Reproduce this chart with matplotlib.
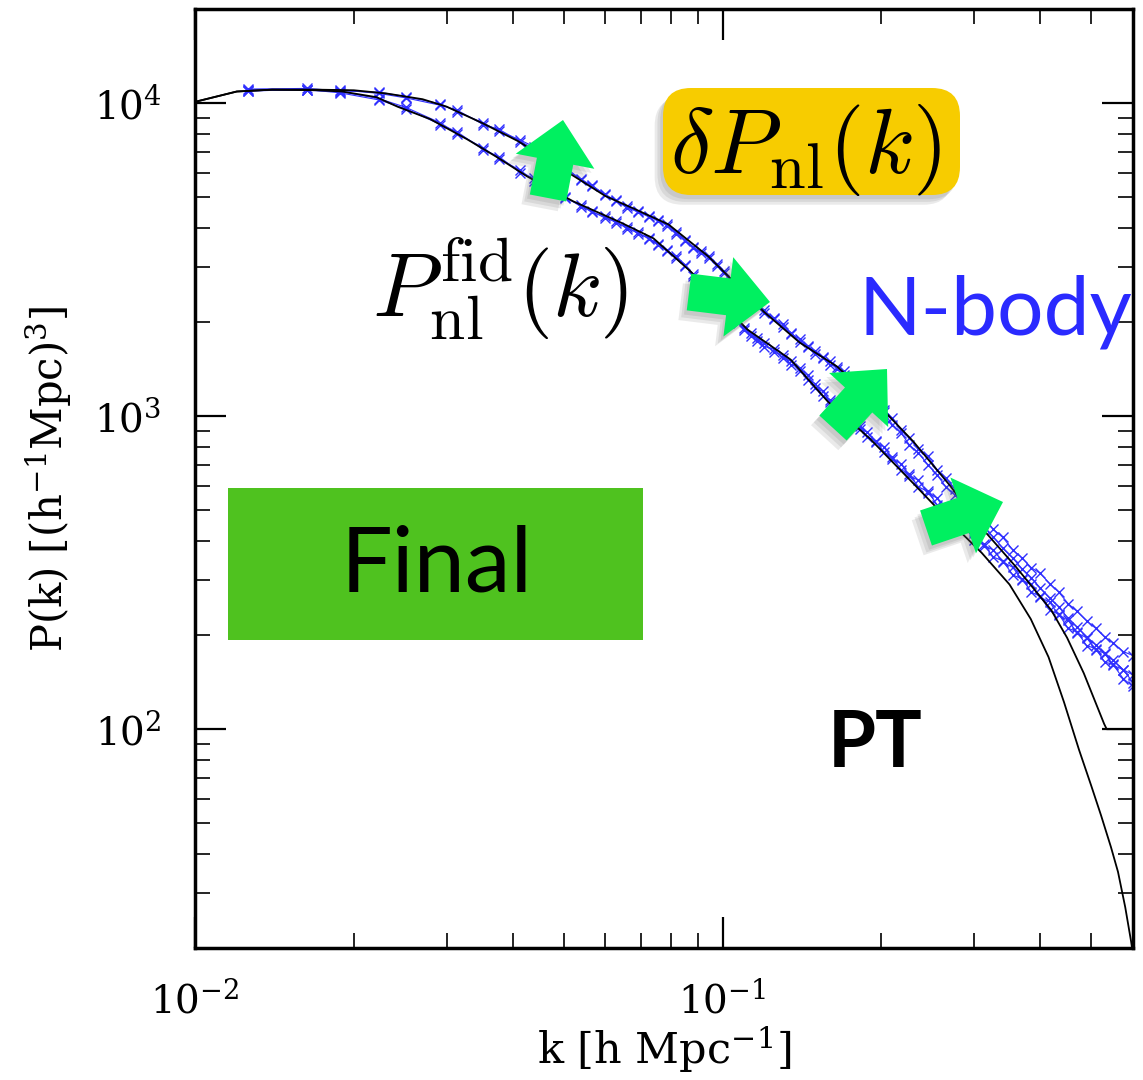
import numpy as np
import matplotlib.pyplot as plt
import matplotlib.patheffects as pe
from matplotlib.patches import FancyArrow, FancyBboxPatch, Rectangle
from matplotlib.ticker import LogLocator, NullFormatter

# perturbation theory predictions, fiducial (a) and varied (b) model
k_pt_a = [0.0100, 0.0120, 0.0140, 0.0170, 0.0200, 0.0230, 0.0270, 0.0300, 0.0350, 0.0410,
          0.0480, 0.0540, 0.0600, 0.0680, 0.0790, 0.0940, 0.1030, 0.1200, 0.1400, 0.1650,
          0.1950, 0.2300, 0.2700, 0.3100, 0.3600, 0.4200, 0.4500, 0.4840, 0.5290, 0.5350,
          0.6000]
p_pt_a = [10100, 10900, 11050, 11050, 11000, 10750, 10300, 9750, 8650, 7560,
          6400, 5650, 5050, 4600, 4100, 3240, 2780, 2150, 1720, 1440,
          1110, 830, 600, 440, 330, 240, 196, 151, 104, 100,
          100]

k_pt_b = [0.0100, 0.0120, 0.0140, 0.0170, 0.0190, 0.0221, 0.0242, 0.0279, 0.0328, 0.0374,
          0.0426, 0.0521, 0.0641, 0.0740, 0.0870, 0.1000, 0.1116, 0.1347, 0.1584, 0.1900,
          0.2300, 0.2700, 0.3100, 0.3500, 0.3840, 0.4150, 0.4440, 0.4740, 0.5000, 0.5220,
          0.5450, 0.5620, 0.5800, 0.5950, 0.6000]
p_pt_b = [10100, 10900, 11050, 11000, 10900, 10450, 9750, 8900, 7670, 6720,
          5840, 4860, 4160, 3700, 2900, 2280, 1890, 1516, 1113, 850,
          610, 460, 366, 290, 225, 170, 122, 86, 66, 53,
          42, 35, 27, 21, 19]

# N-body measurements (two realisations per model)
k_nbody = [0.0126, 0.0163, 0.0188, 0.0223, 0.0251, 0.0292, 0.0314, 0.0352, 0.0377, 0.0414,
           0.0440, 0.0477, 0.0503, 0.0540, 0.0565, 0.0600, 0.0628, 0.0660, 0.0691, 0.0725,
           0.0754, 0.0785, 0.0817, 0.0850, 0.0880, 0.0910, 0.0942, 0.0975, 0.1005, 0.1040,
           0.1070, 0.1100, 0.1130, 0.1160, 0.1200, 0.1250, 0.1300, 0.1350, 0.1400, 0.1450,
           0.1500, 0.1550, 0.1600, 0.1650, 0.1700, 0.1760, 0.1820, 0.1880, 0.1950, 0.2020,
           0.2100, 0.2180, 0.2260, 0.2350, 0.2450, 0.2550, 0.2650, 0.2760, 0.2880, 0.3000,
           0.3130, 0.3260, 0.3400, 0.3550, 0.3700, 0.3850, 0.4000, 0.4170, 0.4340, 0.4520,
           0.4700, 0.4900, 0.5100, 0.5300, 0.5500, 0.5750, 0.6000]

p_nb_a1 = [11100, 11150, 10950, 10850, 10500, 9950, 9400, 8650, 8150, 7620,
           7250, 6600, 6250, 5680, 5480, 5080, 4900, 4620, 4520, 4330,
           4250, 4060, 3870, 3620, 3480, 3320, 3240, 3030, 2900, 2700,
           2620, 2470, 2380, 2250, 2180, 2040, 1970, 1830, 1770, 1660,
           1620, 1530, 1500, 1420, 1390, 1300, 1250, 1170, 1130, 1050,
           985, 905, 855, 785, 745, 675, 635, 585, 552, 505,
           476, 435, 410, 374, 352, 328, 315, 292, 274, 252,
           238, 222, 210, 197, 189, 177, 172]
p_nb_a2 = [10950, 11050, 11050, 10750, 10400, 9850, 9500, 8550, 8250, 7540,
           7150, 6700, 6150, 5730, 5420, 5120, 4860, 4680, 4480, 4370,
           4200, 4100, 3830, 3660, 3440, 3360, 3200, 3070, 2860, 2740,
           2580, 2490, 2340, 2270, 2140, 2060, 1930, 1850, 1730, 1680,
           1580, 1550, 1460, 1440, 1350, 1310, 1210, 1170, 1090, 1030,
           940, 885, 810, 765, 700, 650, 595, 560, 515, 480,
           442, 412, 378, 352, 325, 305, 283, 262, 246, 226,
           212, 197, 186, 174, 166, 155, 149]
p_nb_b1 = [11050, 11000, 10900, 10350, 9700, 8650, 8000, 7200, 6650, 6100,
           5650, 5350, 4980, 4730, 4480, 4350, 4150, 4030, 3830, 3720,
           3520, 3400, 3210, 3050, 2810, 2670, 2480, 2380, 2220, 2130,
           1980, 1920, 1810, 1780, 1670, 1640, 1530, 1500, 1390, 1350,
           1230, 1200, 1110, 1085, 1020, 985, 910, 890, 825, 800,
           730, 705, 645, 625, 568, 548, 498, 482, 438, 424,
           386, 374, 342, 329, 299, 290, 264, 255, 231, 223,
           203, 196, 179, 175, 160, 155, 141]
p_nb_b2 = [10950, 11050, 10800, 10250, 9600, 8550, 8100, 7100, 6750, 6000,
           5750, 5250, 5020, 4670, 4520, 4290, 4190, 3970, 3870, 3680,
           3560, 3360, 3250, 3010, 2850, 2630, 2520, 2340, 2260, 2090,
           2020, 1880, 1850, 1740, 1710, 1600, 1570, 1460, 1430, 1310,
           1270, 1160, 1130, 1055, 1040, 955, 930, 860, 835, 770,
           740, 675, 655, 595, 575, 522, 505, 458, 444, 402,
           390, 355, 345, 311, 302, 274, 266, 240, 233, 210,
           205, 185, 181, 164, 161, 145, 137]

W, H = 1143, 1080

plt.rcParams['font.family'] = 'DejaVu Serif'
plt.rcParams['mathtext.fontset'] = 'dejavuserif'

fig = plt.figure(figsize=(W / 100, H / 100), dpi=100)
ax = fig.add_axes([195 / W, 1 - 948 / H, (1133 - 195) / W, (948 - 9) / H])

blue = '#3030ff'
for p in (p_nb_a1, p_nb_a2, p_nb_b1, p_nb_b2):
    ax.plot(k_nbody, p, '-', color=blue, lw=0.8, marker='x', ms=7, mew=1.0, zorder=2)

ax.plot(k_pt_a, p_pt_a, color='black', lw=1.3, zorder=3)
ax.plot(k_pt_b, p_pt_b, color='black', lw=1.3, zorder=3)

ax.set_xscale('log')
ax.set_yscale('log')
ax.set_xlim(0.01, 0.6)
ax.set_ylim(20, 2.0e4)
ax.xaxis.set_major_locator(LogLocator(base=10, numticks=5))
ax.yaxis.set_major_locator(LogLocator(base=10, numticks=6))
ax.xaxis.set_minor_locator(LogLocator(base=10, subs=np.arange(2, 10), numticks=20))
ax.yaxis.set_minor_locator(LogLocator(base=10, subs=np.arange(2, 10), numticks=20))
ax.xaxis.set_minor_formatter(NullFormatter())
ax.yaxis.set_minor_formatter(NullFormatter())
ax.tick_params(which='both', direction='in', top=True, right=True, labelsize=28)
ax.tick_params(which='major', length=22, width=1.6, pad=24)
ax.tick_params(which='minor', length=11, width=1.2)
for s in ax.spines.values():
    s.set_linewidth(2.5)

ax.set_xlabel(r'k [h Mpc$^{-1}$]', fontsize=31, labelpad=2)
ax.set_ylabel(r'P(k) [(h$^{-1}$Mpc)$^{3}$]', fontsize=30, labelpad=14)


def fxy(x, y):
    # pixel position (from top-left) to figure fraction
    return x / W, 1 - y / H


# soft drop shadow built from a few faint offset copies
shadow = [pe.SimplePatchShadow(offset=(-d, -d - 1), shadow_rgbFace='0.35', alpha=0.12)
          for d in (2, 4, 6)] + [pe.Normal()]

# green block arrows: (tail x, tail y, tip x, tip y) in pixels
arrows = [(548, 198, 563, 120), (689, 292, 770, 302), (833, 428, 887, 369), (926, 528, 1003, 502)]
for x0, y0, x1, y1 in arrows:
    a = FancyArrow(x0 / 100, (H - y0) / 100, (x1 - x0) / 100, -(y1 - y0) / 100,
                   width=0.37, head_width=0.80, head_length=0.42, length_includes_head=True,
                   transform=fig.dpi_scale_trans, color='#00f060', lw=0, zorder=5,
                   path_effects=shadow)
    fig.add_artist(a)

# yellow label box
box = FancyBboxPatch((663 / 100, (H - 195) / 100), 297 / 100, 107 / 100,
                     boxstyle='round,pad=0,rounding_size=0.28', transform=fig.dpi_scale_trans,
                     facecolor='#f7cc00', edgecolor='none', zorder=5, path_effects=shadow)
fig.add_artist(box)
fig.text(*fxy(805, 150), r'$\delta P_{\rm nl}(k)$', fontsize=66, ha='center', va='center',
         math_fontfamily='cm', zorder=6)

fig.text(*fxy(500, 288), r'$P_{\rm nl}^{\rm fid}(k)$', fontsize=65, ha='center', va='center',
         math_fontfamily='cm', zorder=6)

fig.text(*fxy(858, 312), 'N-body', color='#2a2aff', fontsize=59, family='Lato',
         ha='left', va='center', zorder=6)

fig.add_artist(Rectangle(fxy(228, 640), 415 / W, 152 / H, transform=fig.transFigure,
                         facecolor='#4fc21f', edgecolor='none', zorder=5))
fig.text(*fxy(437, 566), 'Final', fontsize=66, family='Lato', ha='center', va='center', zorder=6)

fig.text(*fxy(875, 745), 'PT', fontsize=56, family='Lato', weight='bold',
         ha='center', va='center', zorder=6)

fig.savefig('out.png', dpi=100)
